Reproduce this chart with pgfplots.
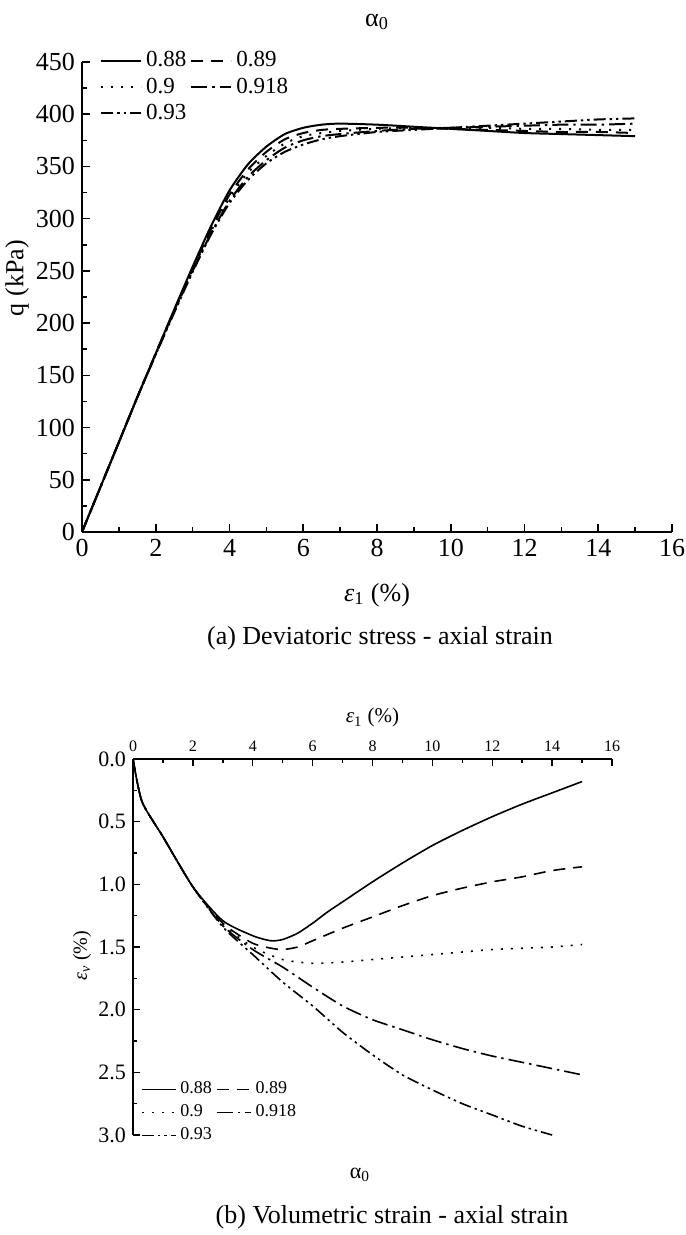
\documentclass[border=0pt]{standalone}
\usepackage{fontspec}
\setmainfont{Liberation Serif}
\usepackage{pgfplots}
\pgfplotsset{compat=1.18}

\pgfplotsset{
  dsh/.style={dash pattern=on 6pt off 4pt},
  dtt/.style={dash pattern=on 1pt off 4pt},
  dd/.style={dash pattern=on 8pt off 2.5pt on 1.2pt off 2.5pt},
  ddd/.style={dash pattern=on 6pt off 2pt on 1.2pt off 2pt on 1.2pt off 2pt},
}

\begin{document}
\begin{tikzpicture}
\useasboundingbox (0,0) rectangle (342.5pt,-617.5pt);

% (a) deviatoric stress
\begin{axis}[
  at={(41pt,-266pt)}, anchor=south west,
  scale only axis, width=295pt, height=235pt,
  xmin=0, xmax=16, ymin=0, ymax=450,
  xtick distance=2, minor x tick num=1,
  ytick distance=50, minor y tick num=1,
  axis x line*=bottom, axis y line*=left,
  axis line style={-, line width=1pt},
  tick align=inside, major tick length=4pt, minor tick length=2.5pt,
  every tick/.style={black, line width=0.8pt},
  /pgf/number format/assume math mode=true,
  tick label style={font=\fontsize{13}{13}\selectfont},
  xlabel={\textit{ε}\textsubscript{1} (\%)},
  xlabel style={at={(axis description cs:0.5,-0.134)}, anchor=center, font=\fontsize{13}{13}\selectfont},
  ylabel={q (kPa)},
  ylabel style={at={(axis description cs:-0.110,0.54)}, anchor=center, font=\fontsize{13}{13}\selectfont},
  legend columns=2,
  legend cell align=left,
  legend image code/.code={\draw[#1] (0pt,0pt) -- (20pt,0pt);},
  legend style={draw=none, fill=none, at={(axis description cs:0.02,1.04)}, anchor=north west,
    font=\fontsize{11.5}{12}\selectfont, row sep=0pt,
    /tikz/every even column/.append style={column sep=0pt}},
  every axis plot/.append style={black, line width=1pt, smooth, tension=0.4},
]
\addplot[solid] coordinates {(0,0) (0.5,43) (1,86) (1.5,129) (2,171) (2.5,213) (3,254) (3.5,293) (4,327) (4.5,352) (5,369) (5.5,381) (6,387) (6.5,390) (7,391) (8,390) (9,388) (10,386) (11,384) (12,382) (13,381) (14,380) (15,379)};
\addlegendentry{0.88}
\addplot[dsh] coordinates {(0,0) (0.5,43) (1,86) (1.5,129) (2,171) (2.5,212) (3,252) (3.5,290) (4,323) (4.5,347) (5,364) (5.5,376) (6,382) (6.5,385) (7,386) (8,387) (9,387) (10,386) (11,385) (12,384) (13,383) (14,383) (15,382)};
\addlegendentry{0.89}
\addplot[dtt] coordinates {(0,0) (0.5,43) (1,86) (1.5,129) (2,171) (2.5,212) (3,251) (3.5,288) (4,320) (4.5,344) (5,360) (5.5,372) (6,379) (6.5,382) (7,384) (8,386) (9,387) (10,387) (11,387) (12,386) (13,386) (14,385) (15,385)};
\addlegendentry{0.9}
\addplot[dd] coordinates {(0,0) (0.5,43) (1,86) (1.5,129) (2,170) (2.5,211) (3,250) (3.5,286) (4,317) (4.5,340) (5,356) (5.5,368) (6,375) (6.5,379) (7,381) (8,384) (9,386) (10,387) (11,388) (12,389) (13,390) (14,390) (15,391)};
\addlegendentry{0.918}
\addplot[ddd] coordinates {(0,0) (0.5,43) (1,86) (1.5,129) (2,170) (2.5,210) (3,249) (3.5,285) (4,315) (4.5,337) (5,353) (5.5,364) (6,371) (6.5,376) (7,379) (8,383) (9,385) (10,387) (11,389) (12,391) (13,393) (14,395) (15,396)};
\addlegendentry{0.93}
\end{axis}

\node[font=\fontsize{13}{13}\selectfont] at (188.5pt,-11pt) {α\textsubscript{0}};
\node[font=\fontsize{13}{14}\selectfont] at (190pt,-319pt) {(a) Deviatoric stress - axial strain};

% (b) volumetric strain
\begin{axis}[
  at={(66.5pt,-567.5pt)}, anchor=south west,
  scale only axis, width=239.5pt, height=188pt,
  xmin=0, xmax=16, ymin=0, ymax=3, y dir=reverse,
  xtick distance=2, minor x tick num=1,
  ytick distance=0.5, minor y tick num=1,
  axis x line*=top, axis y line*=left,
  axis line style={-, line width=0.8pt},
  tick align=inside, major tick length=3.5pt, minor tick length=2pt,
  every tick/.style={black, line width=0.7pt},
  /pgf/number format/assume math mode=true,
  /pgf/number format/fixed, /pgf/number format/fixed zerofill,
  yticklabel style={font=\fontsize{11}{11}\selectfont, /pgf/number format/precision=1},
  xticklabel style={font=\fontsize{8}{8}\selectfont, /pgf/number format/precision=0, /pgf/number format/fixed zerofill=false},
  xlabel={\textit{ε}\textsubscript{1} (\%)},
  xlabel style={font=\fontsize{10.5}{11}\selectfont},
  clip mode=individual,
  legend columns=2,
  legend cell align=left,
  legend image code/.code={\draw[#1] (0pt,0pt) -- (17pt,0pt);},
  legend style={draw=none, fill=none, at={(axis cs:0.05,2.51)}, anchor=north west,
    font=\fontsize{9}{10}\selectfont, row sep=0pt,
    /tikz/every even column/.append style={column sep=0pt}},
  every axis plot/.append style={black, line width=0.8pt, smooth, tension=0.4},
]
\addplot[solid] coordinates {(0,0) (0.3,0.34) (1,0.62) (2,1.02) (3,1.29) (4,1.41) (4.6,1.45) (5,1.44) (5.5,1.39) (6,1.31) (6.5,1.22) (7,1.14) (8,0.98) (9,0.83) (10,0.69) (11,0.57) (12,0.46) (13,0.36) (14,0.27) (15,0.18)};
\addlegendentry{0.88}
\addplot[dsh] coordinates {(0,0) (0.3,0.34) (1,0.62) (2,1.02) (3,1.31) (4,1.47) (4.9,1.52) (5.5,1.50) (6,1.45) (7,1.35) (8,1.26) (9,1.17) (10,1.09) (11,1.03) (12,0.98) (13,0.94) (14,0.89) (15,0.86)};
\addlegendentry{0.89}
\addplot[dtt] coordinates {(0,0) (0.3,0.34) (1,0.62) (2,1.02) (3,1.32) (4,1.50) (5,1.60) (6,1.63) (7,1.62) (8,1.60) (9,1.58) (10,1.56) (11,1.54) (12,1.52) (13,1.51) (14,1.50) (15,1.48)};
\addlegendentry{0.9}
\addplot[dd] coordinates {(0,0) (0.3,0.34) (1,0.62) (2,1.02) (3,1.33) (4,1.52) (5,1.66) (6,1.82) (7,1.97) (8,2.08) (9,2.16) (10,2.24) (11,2.31) (12,2.37) (13,2.42) (14,2.47) (15,2.52)};
\addlegendentry{0.918}
\addplot[ddd] coordinates {(0,0) (0.3,0.34) (1,0.62) (2,1.02) (3,1.34) (4,1.56) (5,1.78) (6,1.97) (7,2.18) (8,2.36) (9,2.52) (10,2.64) (11,2.75) (12,2.84) (13,2.93) (14,3.0)};
\addlegendentry{0.93}
\node[rotate=90, font=\fontsize{10}{10}\selectfont] at (axis cs:-1.7,1.57) {\textit{ε}\textsubscript{\textit{v}} (\%)};
\end{axis}

\node[font=\fontsize{11}{12}\selectfont] at (180pt,-587.5pt) {α\textsubscript{0}};
\node[font=\fontsize{13}{14}\selectfont] at (196pt,-608.5pt) {(b) Volumetric strain - axial strain};
\end{tikzpicture}
\end{document}
